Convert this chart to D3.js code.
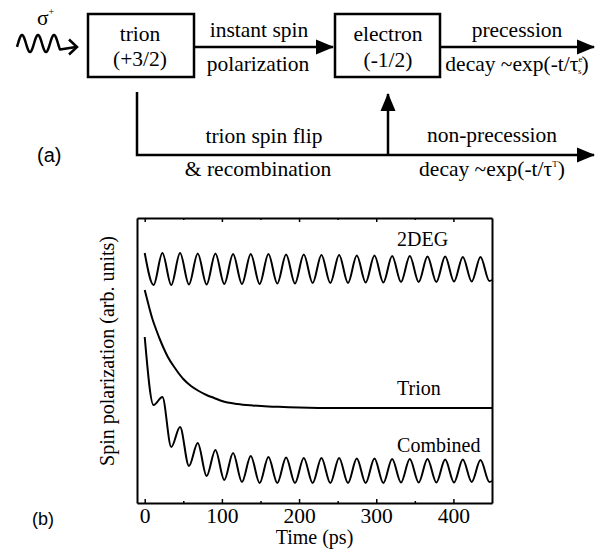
<!DOCTYPE html>
<html>
<head>
<meta charset="utf-8">
<script src="https://cdn.jsdelivr.net/npm/d3@7"></script>
<style>
  body { margin: 0; background: #fff; }
  svg { display: block; }
</style>
</head>
<body>
<div id="viz"></div>
<script>
const width = 608;
const height = 557;
const serif = "'Liberation Serif', 'Times New Roman', serif";
const sans = "'Liberation Sans', Arial, sans-serif";

// times (ps) of the extrema of the precession, plus the end of the window
const extremaT = [0, 11.5, 22.9, 34.4, 45.8, 57.3, 68.7, 80.2, 91.6, 103.1, 114.5, 126.0, 137.4, 148.9,
    160.3, 171.8, 183.2, 194.7, 206.1, 217.6, 229.0, 240.5, 251.9, 263.4, 274.8, 286.3, 297.7, 309.2,
    320.6, 332.1, 343.5, 355.0, 366.4, 377.9, 389.3, 400.8, 412.2, 423.7, 435.1, 446.6, 450];
// 2DEG signal (arb. units) at extremaT
const deg2Values = [250, 218, 250, 218, 250, 218.5, 249.5, 218.5, 249.5, 219, 249, 219, 249, 219,
    249, 219.5, 248.5, 219.5, 248.5, 220, 248, 220, 248, 220, 247.5, 220.5, 247.5, 220.5,
    247, 221, 247, 221, 246.5, 221, 246.5, 221.5, 246, 221.5, 246, 222, 223];
// combined signal (arb. units) at extremaT
const combinedValues = [166, 98, 106, 56, 76, 37, 60, 27, 53, 23, 50, 21, 47, 20,
    46, 20, 45.5, 20, 45, 20, 45, 20, 45, 20, 44.5, 20, 44.5, 20,
    44, 20.5, 44, 20.5, 44, 20.5, 43.5, 20.5, 43.5, 21, 43, 21, 22];
// trion signal
const trionT = [0, 5, 10, 15, 20, 25, 30, 40, 50, 60, 70, 80, 90, 100, 120, 140, 160, 180, 200, 250, 300, 350, 400, 450];
const trionValues = [213, 198, 184, 173, 163, 154, 146, 134, 124, 117, 112, 108, 105, 102, 99, 97.5, 96.5, 96, 95.5, 95, 95, 95, 95, 95];

const xTicks = [0, 100, 200, 300, 400];
const xMinorTicks = [50, 150, 250, 350];
const seriesLabels = ["2DEG", "Trion", "Combined"];
const labelT = 327;
const labelValues = [257, 108, 51];

const svg = d3.select("#viz")
    .append("svg")
    .attr("width", width)
    .attr("height", height)
    .attr("viewBox", `0 0 ${width} ${height}`)
    .attr("font-family", serif);

// ---------- (a) scheme ----------
const ink = "#000";
const defs = svg.append("defs");
defs.append("marker")
    .attr("id", "head")
    .attr("markerUnits", "userSpaceOnUse")
    .attr("viewBox", "0 -8 18 16")
    .attr("refX", 17).attr("refY", 0)
    .attr("markerWidth", 18).attr("markerHeight", 16)
    .attr("orient", "auto")
    .append("path")
    .attr("d", "M0,-7.5L18,0L0,7.5Z")
    .attr("fill", ink);

const a = svg.append("g")
    .attr("font-family", serif)
    .attr("font-size", 21.5)
    .attr("fill", ink);

const boxes = [
    {x: 88, y: 14, w: 106, h: 63, cx: 140, lines: ["trion", "(+3/2)"], base: [41, 66]},
    {x: 335, y: 14, w: 105, h: 63, cx: 388, lines: ["electron", "(-1/2)"], base: [41, 67]}
];
boxes.forEach(b => {
    a.append("rect")
        .attr("x", b.x).attr("y", b.y).attr("width", b.w).attr("height", b.h)
        .attr("fill", "none").attr("stroke", ink).attr("stroke-width", 2.5);
    b.lines.forEach((t, i) => {
        a.append("text").attr("x", b.cx).attr("y", b.base[i])
            .attr("text-anchor", "middle").text(t);
    });
});

const arrows = [
    [[194, 47], [333, 47]],
    [[441, 47], [594, 47]],
    [[137, 92], [137, 155], [594, 155]],
    [[388, 155], [388, 94]]
];
arrows.forEach(p => {
    a.append("path")
        .attr("d", d3.line()(p))
        .attr("fill", "none")
        .attr("stroke", ink)
        .attr("stroke-width", 2.5)
        .attr("marker-end", "url(#head)");
});

const plain = [
    ["instant spin", 259, 37],
    ["polarization", 258, 71],
    ["precession", 517, 37],
    ["trion spin flip", 264, 143],
    ["& recombination", 258, 176],
    ["non-precession", 492, 142]
];
plain.forEach(([t, px, py]) => {
    a.append("text").attr("x", px).attr("y", py).attr("text-anchor", "middle").text(t);
});

// decay ~exp(-t/τ_s^e)
const d1 = a.append("text").attr("x", 517).attr("y", 71).attr("text-anchor", "middle");
d1.append("tspan").text("decay ~exp(-t/τ");
d1.append("tspan").attr("font-size", 9).attr("dy", -9).text("e");
d1.append("tspan").attr("font-size", 9).attr("dx", -4.5).attr("dy", 12).text("s");
d1.append("tspan").attr("dy", -3).text(")");

// decay ~exp(-t/τ^T)
const d2 = a.append("text").attr("x", 492).attr("y", 176).attr("text-anchor", "middle");
d2.append("tspan").text("decay ~exp(-t/τ");
d2.append("tspan").attr("font-size", 9).attr("dy", -9).text("T");
d2.append("tspan").attr("dy", 9).text(")");

// photon: wavy arrow with sigma+
const wave = d3.range(17, 60.5, 0.5).map(px => [px, 43.5 - 8.5 * Math.sin(2 * Math.PI * (px - 18) / 16)]);
wave.push([76, 47]);
a.append("path")
    .attr("d", d3.line().curve(d3.curveLinear)(wave))
    .attr("fill", "none").attr("stroke", ink).attr("stroke-width", 2.5)
    .attr("stroke-linejoin", "round");
a.append("path")
    .attr("d", "M69,39.5L77,47L69,54.5")
    .attr("fill", "none").attr("stroke", ink).attr("stroke-width", 2.5);
const sig = a.append("text").attr("x", 37).attr("y", 25);
sig.append("tspan").text("σ");
sig.append("tspan").attr("font-size", 10).attr("dy", -10).text("+");

svg.append("text")
    .attr("x", 37).attr("y", 162)
    .attr("font-family", sans)
    .attr("font-size", 20)
    .text("(a)");

// ---------- (b) plot ----------
const xScale = d3.scaleLinear().domain([-10, 450]).range([137, 492]);
const yScale = d3.scaleLinear().domain([0, 285]).range([503, 218]);
const [plotBottom, plotTop] = yScale.range();
const [plotLeft, plotRight] = xScale.range();

const styleAxis = g => {
    g.attr("font-family", serif).attr("font-size", 21.5);
    g.select(".domain").attr("stroke-width", 2);
    g.selectAll(".tick line").attr("stroke-width", 1.5);
};

svg.append("g")
    .attr("transform", `translate(0,${plotBottom})`)
    .call(d3.axisBottom(xScale).tickValues(xTicks).tickSizeInner(-4).tickSizeOuter(0)
        .tickPadding(5).tickFormat(d3.format("d")))
    .call(styleAxis);
svg.append("g")
    .attr("transform", `translate(0,${plotBottom})`)
    .call(d3.axisBottom(xScale).tickValues(xMinorTicks).tickSizeInner(-2).tickSizeOuter(0).tickFormat(""))
    .call(g => g.select(".domain").remove())
    .call(styleAxis);
svg.append("g")
    .attr("transform", `translate(0,${plotTop})`)
    .call(d3.axisTop(xScale).tickValues(xTicks).tickSizeInner(-4).tickSizeOuter(0).tickFormat(""))
    .call(styleAxis);
svg.append("g")
    .attr("transform", `translate(0,${plotTop})`)
    .call(d3.axisTop(xScale).tickValues(xMinorTicks).tickSizeInner(-2).tickSizeOuter(0).tickFormat(""))
    .call(g => g.select(".domain").remove())
    .call(styleAxis);
svg.append("g")
    .attr("transform", `translate(${plotLeft},0)`)
    .call(d3.axisLeft(yScale).tickValues([]).tickSizeOuter(0))
    .call(styleAxis);
svg.append("g")
    .attr("transform", `translate(${plotRight},0)`)
    .call(d3.axisRight(yScale).tickValues([]).tickSizeOuter(0))
    .call(styleAxis);

const line = d3.line()
    .x(d => xScale(d[0]))
    .y(d => yScale(d[1]))
    .curve(d3.curveMonotoneX);

const series = [
    d3.zip(extremaT, deg2Values),
    d3.zip(trionT, trionValues),
    d3.zip(extremaT, combinedValues)
];
svg.append("g")
    .selectAll("path")
    .data(series)
    .join("path")
    .attr("d", line)
    .attr("fill", "none")
    .attr("stroke", ink)
    .attr("stroke-width", 2);

svg.append("g")
    .attr("font-family", serif)
    .attr("font-size", 20)
    .selectAll("text")
    .data(seriesLabels)
    .join("text")
    .attr("x", xScale(labelT))
    .attr("y", (d, i) => yScale(labelValues[i]))
    .text(d => d);

svg.append("text")
    .attr("x", (plotLeft + plotRight) / 2)
    .attr("y", 544)
    .attr("text-anchor", "middle")
    .attr("font-family", serif)
    .attr("font-size", 20)
    .text("Time (ps)");

svg.append("text")
    .attr("transform", `translate(114,351) rotate(-90)`)
    .attr("text-anchor", "middle")
    .attr("font-family", serif)
    .attr("font-size", 20)
    .text("Spin polarization (arb. units)");

svg.append("text")
    .attr("x", 32).attr("y", 525)
    .attr("font-family", sans)
    .attr("font-size", 18)
    .text("(b)");
</script>
</body>
</html>
